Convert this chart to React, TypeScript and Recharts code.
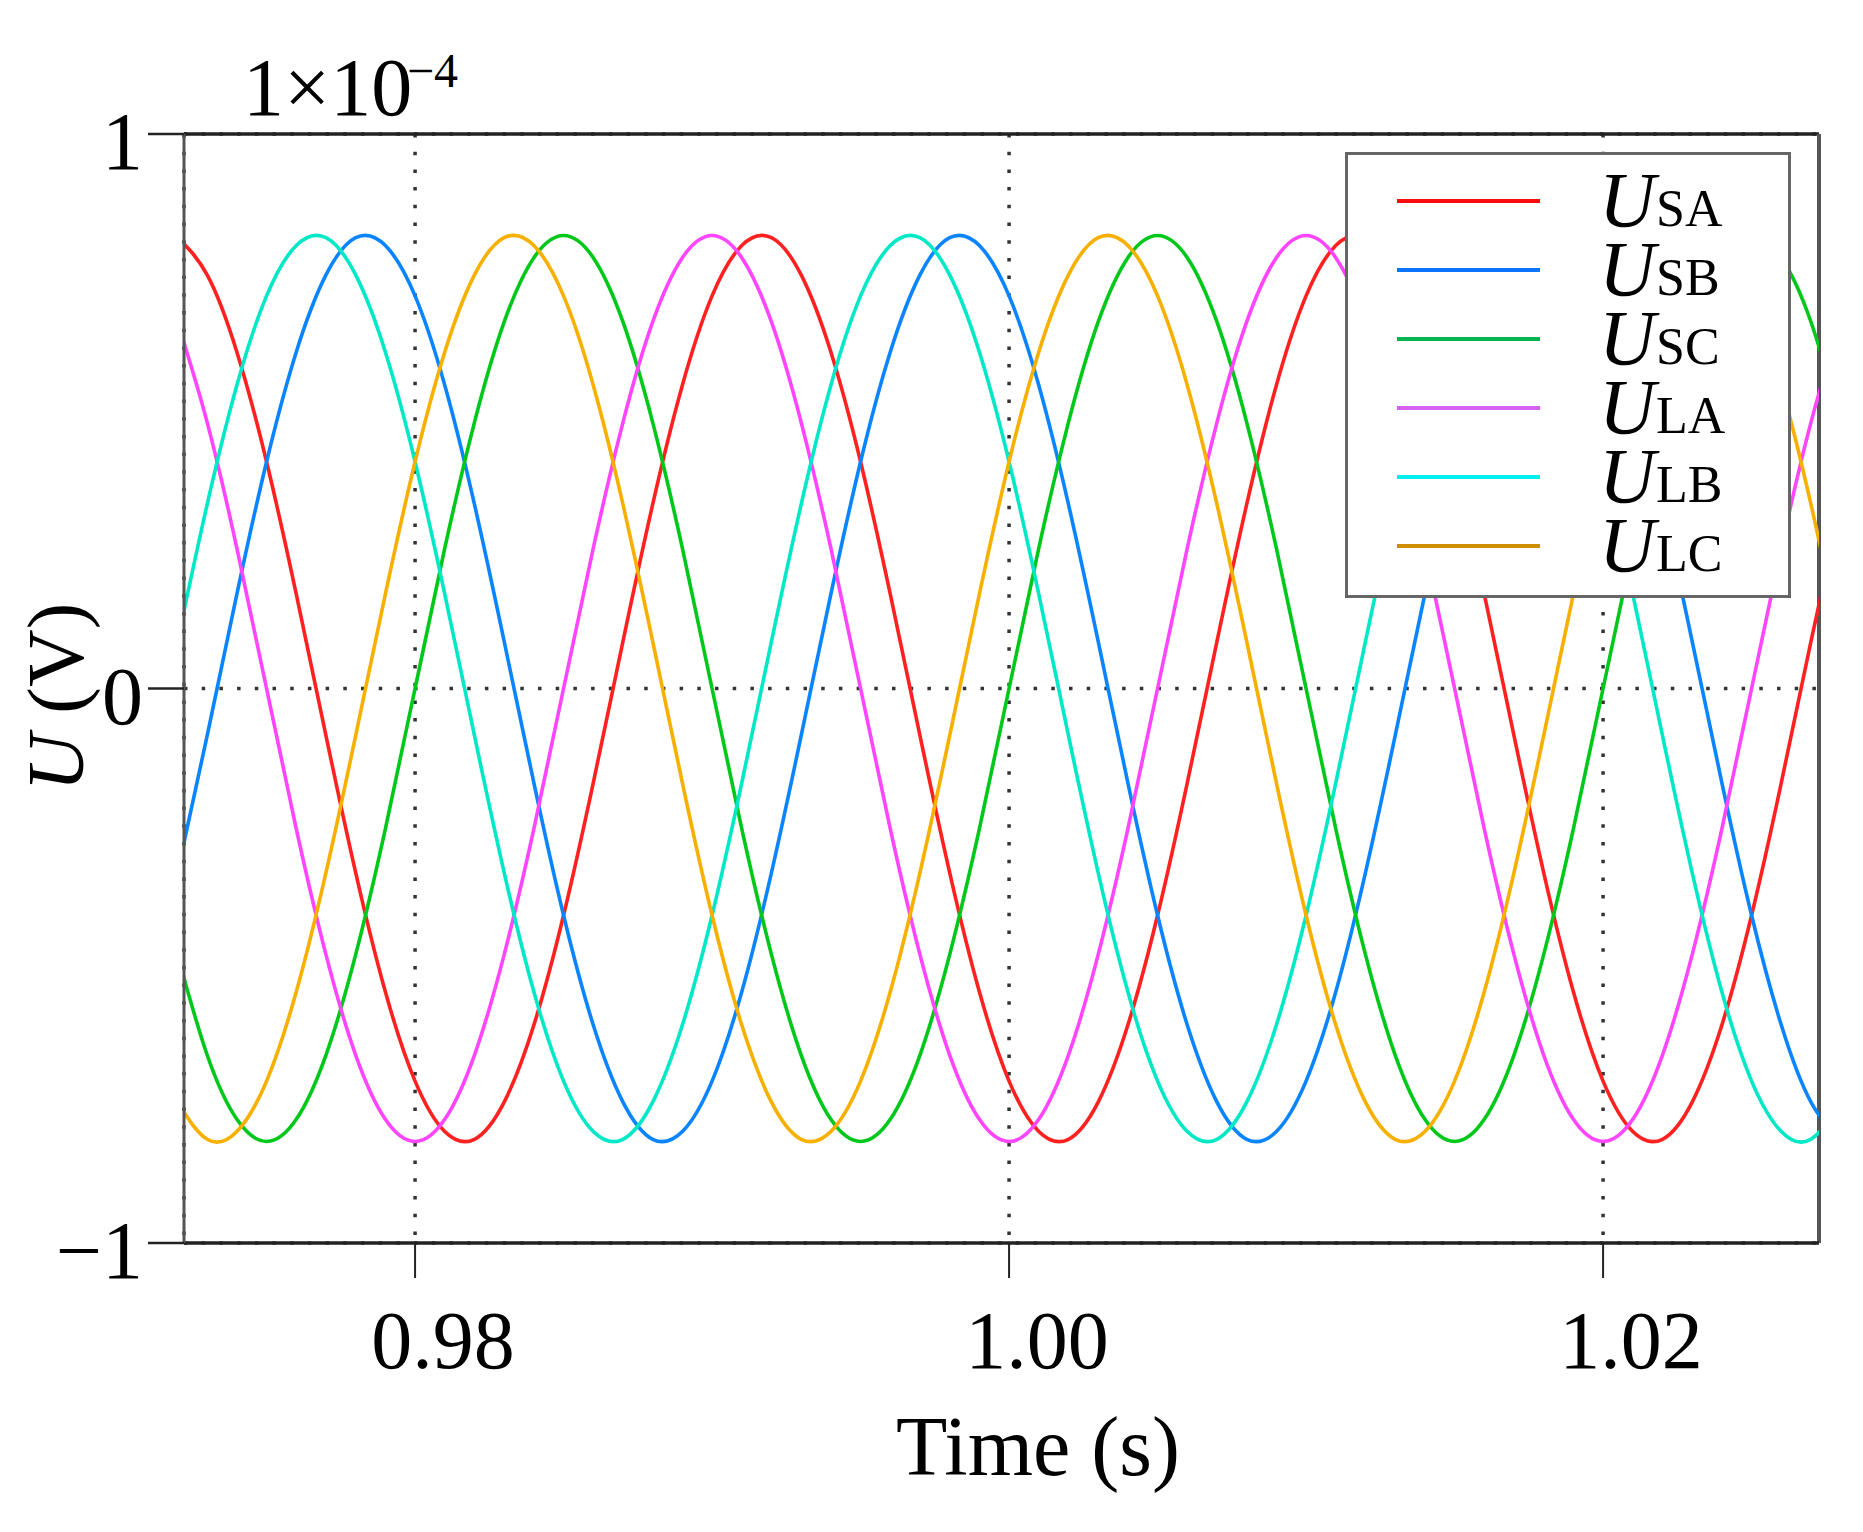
import React from 'react';
import { LineChart, Line, XAxis, YAxis, CartesianGrid, Legend, ReferenceLine } from 'recharts';

// time samples (s)
const times = [
  0.972, 0.973, 0.974, 0.975, 0.976, 0.977, 0.978, 0.979, 0.98, 0.981,
  0.982, 0.983, 0.984, 0.985, 0.986, 0.987, 0.988, 0.989, 0.99, 0.991,
  0.992, 0.993, 0.994, 0.995, 0.996, 0.997, 0.998, 0.999, 1.0, 1.001,
  1.002, 1.003, 1.004, 1.005, 1.006, 1.007, 1.008, 1.009, 1.01, 1.011,
  1.012, 1.013, 1.014, 1.015, 1.016, 1.017, 1.018, 1.019, 1.02, 1.021,
  1.022, 1.023, 1.024, 1.025, 1.026, 1.027, 1.028,
];

// voltages, in units of 1e-4 V
const usa = [
  0.813, 0.746, 0.607, 0.409, 0.17, -0.085, -0.332, -0.547, -0.708, -0.799,
  -0.813, -0.746, -0.607, -0.409, -0.17, 0.085, 0.332, 0.547, 0.708, 0.799,
  0.813, 0.746, 0.607, 0.409, 0.17, -0.085, -0.332, -0.547, -0.708, -0.799,
  -0.813, -0.746, -0.607, -0.409, -0.17, 0.085, 0.332, 0.547, 0.708, 0.799,
  0.813, 0.746, 0.607, 0.409, 0.17, -0.085, -0.332, -0.547, -0.708, -0.799,
  -0.813, -0.746, -0.607, -0.409, -0.17, 0.085, 0.332,
];
const usb = [
  -0.332, -0.085, 0.17, 0.409, 0.607, 0.746, 0.813, 0.799, 0.708, 0.547,
  0.332, 0.085, -0.17, -0.409, -0.607, -0.746, -0.813, -0.799, -0.708, -0.547,
  -0.332, -0.085, 0.17, 0.409, 0.607, 0.746, 0.813, 0.799, 0.708, 0.547,
  0.332, 0.085, -0.17, -0.409, -0.607, -0.746, -0.813, -0.799, -0.708, -0.547,
  -0.332, -0.085, 0.17, 0.409, 0.607, 0.746, 0.813, 0.799, 0.708, 0.547,
  0.332, 0.085, -0.17, -0.409, -0.607, -0.746, -0.813,
];
const usc = [
  -0.48, -0.661, -0.777, -0.817, -0.777, -0.661, -0.48, -0.253, 0, 0.253,
  0.48, 0.661, 0.777, 0.817, 0.777, 0.661, 0.48, 0.253, 0, -0.253,
  -0.48, -0.661, -0.777, -0.817, -0.777, -0.661, -0.48, -0.253, 0, 0.253,
  0.48, 0.661, 0.777, 0.817, 0.777, 0.661, 0.48, 0.253, 0, -0.253,
  -0.48, -0.661, -0.777, -0.817, -0.777, -0.661, -0.48, -0.253, 0, 0.253,
  0.48, 0.661, 0.777, 0.817, 0.777, 0.661, 0.48,
];
const ula = [
  0.661, 0.48, 0.253, 0, -0.253, -0.48, -0.661, -0.777, -0.817, -0.777,
  -0.661, -0.48, -0.253, 0, 0.253, 0.48, 0.661, 0.777, 0.817, 0.777,
  0.661, 0.48, 0.253, 0, -0.253, -0.48, -0.661, -0.777, -0.817, -0.777,
  -0.661, -0.48, -0.253, 0, 0.253, 0.48, 0.661, 0.777, 0.817, 0.777,
  0.661, 0.48, 0.253, 0, -0.253, -0.48, -0.661, -0.777, -0.817, -0.777,
  -0.661, -0.48, -0.253, 0, 0.253, 0.48, 0.661,
];
const ulb = [
  0.085, 0.332, 0.547, 0.708, 0.799, 0.813, 0.746, 0.607, 0.409, 0.17,
  -0.085, -0.332, -0.547, -0.708, -0.799, -0.813, -0.746, -0.607, -0.409, -0.17,
  0.085, 0.332, 0.547, 0.708, 0.799, 0.813, 0.746, 0.607, 0.409, 0.17,
  -0.085, -0.332, -0.547, -0.708, -0.799, -0.813, -0.746, -0.607, -0.409, -0.17,
  0.085, 0.332, 0.547, 0.708, 0.799, 0.813, 0.746, 0.607, 0.409, 0.17,
  -0.085, -0.332, -0.547, -0.708, -0.799, -0.813, -0.746,
];
const ulc = [
  -0.746, -0.813, -0.799, -0.708, -0.547, -0.332, -0.085, 0.17, 0.409, 0.607,
  0.746, 0.813, 0.799, 0.708, 0.547, 0.332, 0.085, -0.17, -0.409, -0.607,
  -0.746, -0.813, -0.799, -0.708, -0.547, -0.332, -0.085, 0.17, 0.409, 0.607,
  0.746, 0.813, 0.799, 0.708, 0.547, 0.332, 0.085, -0.17, -0.409, -0.607,
  -0.746, -0.813, -0.799, -0.708, -0.547, -0.332, -0.085, 0.17, 0.409, 0.607,
  0.746, 0.813, 0.799, 0.708, 0.547, 0.332, 0.085,
];

const seriesKeys = ['USA', 'USB', 'USC', 'ULA', 'ULB', 'ULC'];
const subscripts = ['SA', 'SB', 'SC', 'LA', 'LB', 'LC'];
const lineColors = ['#ff2020', '#0a84ff', '#00c81a', '#ff45ff', '#00e8c6', '#f7b000'];
const legendColors = ['#ff0a0a', '#0a72ff', '#00b450', '#d562f2', '#00eeee', '#cf8f00'];

const xTicks = [0.98, 1.0, 1.02];
const yTicks = [-1, 0, 1];
const X_MIN = 0.97222;
const X_MAX = 1.02727;

const rows = times.map((t, i) => ({
  t,
  USA: usa[i],
  USB: usb[i],
  USC: usc[i],
  ULA: ula[i],
  ULB: ulb[i],
  ULC: ulc[i],
}));

const FONT = '"Liberation Serif", "Times New Roman", serif';

const XTick = (props: any) => {
  const { x, y, payload } = props;
  return (
    <text x={x + 28} y={y + 90} textAnchor="middle" fontFamily={FONT} fontSize={82} fill="#000">
      {Number(payload.value).toFixed(2)}
    </text>
  );
};

const YTick = (props: any) => {
  const { x, y, payload } = props;
  const v = Number(payload.value);
  return (
    <text x={x} y={y + 35} textAnchor="end" fontFamily={FONT} fontSize={82} fill="#000">
      {v < 0 ? '\u2212' + Math.abs(v) : String(v)}
    </text>
  );
};

const LegendBox = (props: any) => {
  const items = props.payload || [];
  return (
    <svg width={446} height={446} style={{ display: 'block' }}>
      <rect x={1.5} y={1.5} width={443} height={443} fill="#fff" stroke="#666" strokeWidth={3} />
      {items.map((item: any) => {
        const i = seriesKeys.indexOf(item.dataKey);
        const cy = 49 + 69 * i;
        return (
          <g key={item.dataKey}>
            <line x1={52} x2={195} y1={cy} y2={cy} stroke={legendColors[i]} strokeWidth={4} />
            <text x={254} y={cy + 25} fontFamily={FONT} fontStyle="italic" fontSize={78} fill="#000">
              U
            </text>
            <text x={311} y={cy + 25} fontFamily={FONT} fontSize={52} fill="#000">
              {subscripts[i]}
            </text>
          </g>
        );
      })}
    </svg>
  );
};

export default function App() {
  return (
    <div style={{ position: 'absolute', left: 0, top: 0, width: 1863, height: 1532, background: '#fff' }}>
      <LineChart width={1863} height={1532} data={rows} margin={{ top: 134, right: 44, left: 0, bottom: 0 }}>
        <CartesianGrid stroke="#333" strokeWidth={3.5} strokeDasharray="3.5 14.2" />
        <XAxis
          dataKey="t"
          type="number"
          domain={[X_MIN, X_MAX]}
          allowDataOverflow
          ticks={xTicks}
          height={289}
          tickSize={35}
          tickMargin={0}
          tick={<XTick />}
          axisLine={{ stroke: '#222', strokeWidth: 3.5 }}
          tickLine={{ stroke: '#222', strokeWidth: 2 }}
        />
        <YAxis
          type="number"
          domain={[-1, 1]}
          allowDataOverflow
          ticks={yTicks}
          width={184}
          tickSize={36}
          tickMargin={5}
          tick={<YTick />}
          axisLine={{ stroke: '#555', strokeWidth: 3 }}
          tickLine={{ stroke: '#222', strokeWidth: 2.5 }}
        />
        <ReferenceLine y={1} stroke="#222" strokeWidth={3.5} />
        <ReferenceLine x={X_MAX} stroke="#555" strokeWidth={4} />
        {seriesKeys.map((key, i) => (
          <Line
            key={key}
            type="natural"
            dataKey={key}
            name={key}
            stroke={lineColors[i]}
            strokeWidth={3.6}
            dot={false}
            activeDot={false}
            isAnimationActive={false}
          />
        ))}
        <Legend
          layout="vertical"
          align="center"
          verticalAlign="middle"
          content={<LegendBox />}
          wrapperStyle={{ left: 1345, top: 152, width: 446, height: 446, margin: 0, padding: 0, lineHeight: 0 }}
        />
        <text x={243} y={115} fontFamily={FONT} fontSize={82} fill="#000">
          1×10
        </text>
        <text x={407} y={87} fontFamily={FONT} fontSize={48} fill="#000">
          {'\u22124'}
        </text>
        <text x={1038} y={1475} textAnchor="middle" fontFamily={FONT} fontSize={84} fill="#000">
          Time (s)
        </text>
        <text
          x={83}
          y={697}
          transform="rotate(-90, 83, 697)"
          textAnchor="middle"
          fontFamily={FONT}
          fontSize={80}
          fill="#000"
        >
          <tspan fontStyle="italic">U</tspan>
          <tspan> (V)</tspan>
        </text>
      </LineChart>
    </div>
  );
}
